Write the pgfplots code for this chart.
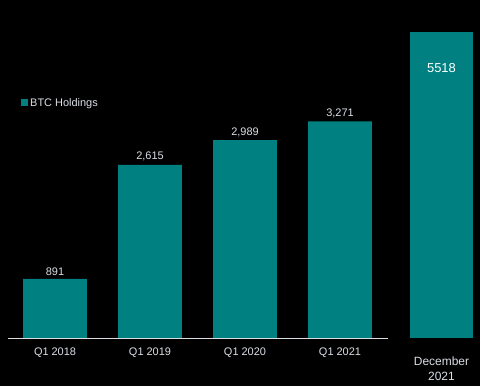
\documentclass[border=0pt]{standalone}
\usepackage{pgfplots}
\pgfplotsset{compat=1.18}
\usepackage{fontspec}
\setmainfont{Liberation Sans}
\definecolor{barteal}{RGB}{0,128,128}
\definecolor{txt}{RGB}{218,222,228}
\pgfdeclarelayer{background}
\pgfsetlayers{background,main}
\begin{document}
\begin{tikzpicture}
\begin{axis}[
 scale only axis, width=465bp, height=306bp,
 xmin=-0.495, xmax=4.4, ymin=0, ymax=4620,
 clip=false,
 axis line style={draw=none}, tick style={draw=none},
 ytick=\empty,
 /pgf/number format/assume math mode=true,
 xtick={0,1,2,3}, xticklabels={Q1 2018,Q1 2019,Q1 2020,Q1 2021},
 extra x ticks={4.068}, extra x tick labels={December\\2021},
 extra x tick style={xticklabel style={yshift=-9bp, font=\fontsize{12}{15}\selectfont}},
 xticklabel style={font=\fontsize{11}{15}\selectfont, text=txt, align=center, yshift=-6bp},
 bar width=0.67,
 legend style={at={(0.028,0.768)}, anchor=west, draw=none, fill=none, inner sep=0pt,
   font=\fontsize{11}{13}\selectfont, text=txt, legend cell align=left},
]
\addplot[ybar, bar shift=0pt, fill=barteal, draw=none,
  legend image code/.code={\fill[barteal] (0bp,-3.5bp) rectangle (7bp,3.5bp);},
  nodes near coords, point meta=y,
  every node near coord/.append style={font=\fontsize{11}{13}\selectfont, text=txt,
    /pgf/number format/1000 sep={,}, /pgf/number format/assume math mode=true}]
  coordinates {(0,891) (1,2615) (2,2989) (3,3271)};
\addlegendentry{BTC Holdings}
\addplot[ybar, bar shift=0pt, fill=barteal, draw=none, forget plot,
  point meta=explicit symbolic, nodes near coords,
  every node near coord/.append style={anchor=center, yshift=-36bp,
    font=\fontsize{13}{15}\selectfont, text=white}]
  coordinates {(4.068,4620) [5518]};
\draw[txt, line width=1bp] (axis cs:-0.495,0) -- (axis cs:3.505,0);
\coordinate (O) at (rel axis cs:0,0);
\end{axis}
\begin{pgfonlayer}{background}
\fill[black] ([shift={(-8bp,-48bp)}]O) rectangle ++(480bp,386bp);
\end{pgfonlayer}
\end{tikzpicture}
\end{document}
